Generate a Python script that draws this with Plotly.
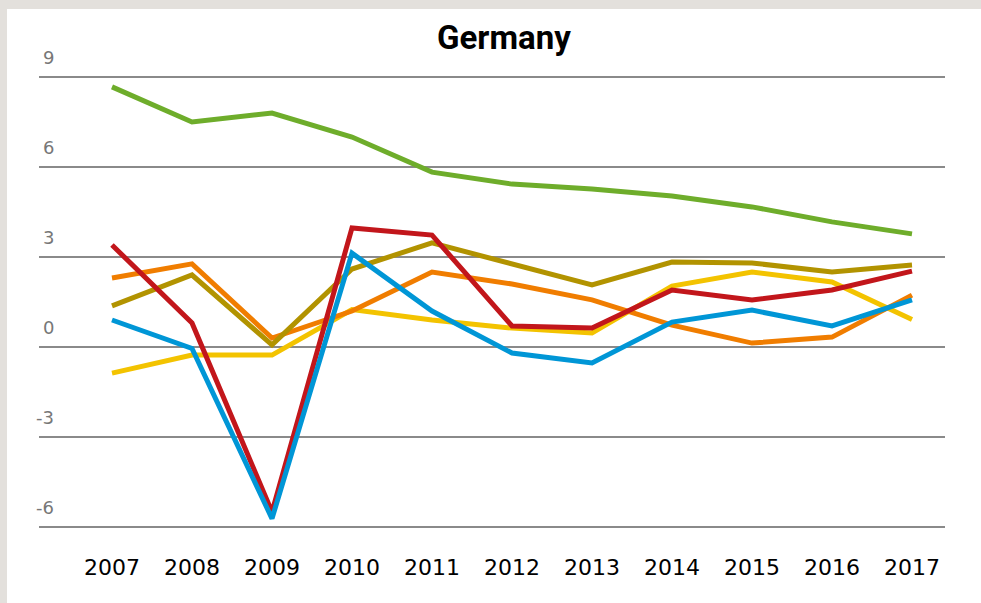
import plotly.graph_objects as go

years = [2007, 2008, 2009, 2010, 2011, 2012, 2013, 2014, 2015, 2016, 2017]
year_labels = [str(y) for y in years]

green = [8.67, 7.5, 7.8, 7.0, 5.83, 5.43, 5.27, 5.03, 4.67, 4.17, 3.77]
yellow = [-0.87, -0.27, -0.27, 1.25, 0.9, 0.63, 0.47, 2.03, 2.5, 2.17, 0.92]
orange = [2.3, 2.77, 0.3, 1.2, 2.5, 2.1, 1.57, 0.73, 0.13, 0.33, 1.73]
olive = [1.37, 2.4, 0.07, 2.6, 3.47, 2.75, 2.07, 2.83, 2.8, 2.5, 2.73]
red = [3.4, 0.8, -5.5, 3.97, 3.73, 0.7, 0.63, 1.9, 1.57, 1.9, 2.53]
blue = [0.9, -0.05, -5.72, 3.13, 1.2, -0.2, -0.53, 0.83, 1.23, 0.7, 1.57]

y_ticks = [9, 6, 3, 0, -3, -6]
y_tick_labels = ["9", "6", "3", "0", "-3", "-6"]

title_text = "Germany"

series = [
    ("yellow", yellow, "#f3c300"),
    ("orange", orange, "#f07d00"),
    ("olive", olive, "#b29300"),
    ("green", green, "#6ead2b"),
    ("red", red, "#c2161b"),
    ("blue", blue, "#0096d6"),
]

W, H = 981, 603
L, R, T, B = 39, 36, 74, 73
pw = W - L - R
ph = H - T - B

fig = go.Figure()
for name, vals, col in series:
    fig.add_trace(go.Scatter(x=years, y=vals, mode="lines", name=name,
                             line=dict(color=col, width=5), hoverinfo="x+y"))

def px_x(p):
    return (p - L) / pw

def px_y(p):
    return (H - B - p) / ph

shapes = [
    dict(type="rect", xref="paper", yref="paper", layer="below",
         x0=px_x(7), x1=px_x(W + 20), y0=px_y(H + 20), y1=px_y(9),
         fillcolor="white", line=dict(width=0)),
]

annotations = [
    dict(text="<b>" + title_text + "</b>", xref="paper", yref="paper",
         x=px_x(504), y=px_y(38), xanchor="center", yanchor="middle",
         showarrow=False,
         font=dict(family="Roboto, sans-serif", size=33, color="#000000")),
]
for v, lab in zip(y_ticks, y_tick_labels):
    annotations.append(dict(text=lab, xref="paper", yref="y", x=px_x(56), y=v,
                            xanchor="right", yanchor="middle", yshift=20,
                            showarrow=False,
                            font=dict(family="DejaVu Sans", size=18, color="#777777")))

fig.update_layout(
    width=W, height=H,
    margin=dict(l=L, r=R, t=T, b=B),
    paper_bgcolor="#e3e0dc",
    plot_bgcolor="rgba(0,0,0,0)",
    showlegend=False,
    shapes=shapes,
    annotations=annotations,
    xaxis=dict(range=[2007 - 73 / 80, 2007 + 833 / 80], tickvals=years, ticktext=year_labels,
               showgrid=False, zeroline=False, showline=False, ticks="",
               ticklabelstandoff=22,
               tickfont=dict(family="DejaVu Sans", size=22, color="#000000")),
    yaxis=dict(range=[-6.1, 9.1], tickvals=y_ticks, showticklabels=False,
               showgrid=True, gridcolor="#8a8a8a", gridwidth=2,
               zeroline=False, showline=False, ticks=""),
)

fig.write_html("out.html", config={"displayModeBar": False},
               post_script="document.body.style.margin='0';document.body.style.overflow='hidden';")
